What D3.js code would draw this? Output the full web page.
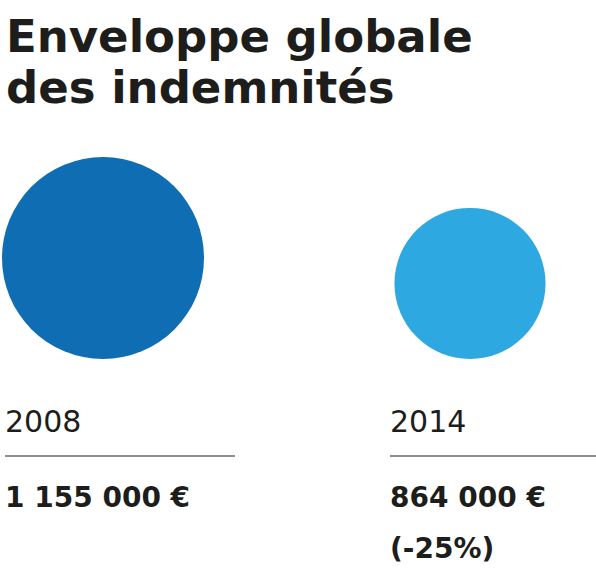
<!DOCTYPE html>
<html><head><meta charset="utf-8">
<script src="https://cdn.jsdelivr.net/npm/d3@7"></script>
<style>body{margin:0;background:#fff}</style>
</head><body>
<div id="chart"></div>
<script>
// data
var years = ["2008", "2014"];
var amounts = [1155000, 864000];
var amountLabels = ["1 155 000 €", "864 000 €"];
var notes = ["", "(-25%)"];
var colors = ["#0f6db3", "#2ea8e0"];

var svgWidth = 596, svgHeight = 569;
var svg = d3.select("#chart").append("svg")
  .attr("width", svgWidth).attr("height", svgHeight);

var font = "'DejaVu Sans', sans-serif";
var ink = "#1d1d1b";

// title
svg.append("text").attr("x", 6).attr("y", 52)
  .attr("font-family", font).attr("font-weight", "bold").attr("font-size", 45)
  .attr("fill", ink).text("Enveloppe globale");
svg.append("text").attr("x", 6).attr("y", 103)
  .attr("font-family", font).attr("font-weight", "bold").attr("font-size", 45)
  .attr("fill", ink).text("des indemnités");

// scales
var x = d3.scaleOrdinal().domain(years).range([103, 470]);
var colLeft = d3.scaleOrdinal().domain(years).range([5, 390]);
var colRight = d3.scaleOrdinal().domain(years).range([235, 596]);
var r = d3.scaleLinear().domain([0, d3.max(amounts)]).range([0, 101]);
var baseY = 359;

var data = years.map((y, i) => ({year: y, amount: amounts[i], label: amountLabels[i], note: notes[i], color: colors[i]}));

var g = svg.selectAll("g.col").data(data).enter().append("g").attr("class", "col");

g.append("circle")
  .attr("cx", d => x(d.year))
  .attr("cy", d => baseY - r(d.amount))
  .attr("r", d => r(d.amount))
  .attr("fill", d => d.color);

g.append("text")
  .attr("x", d => colLeft(d.year)).attr("y", 432)
  .attr("font-family", font).attr("font-size", 30).attr("fill", ink)
  .text(d => d.year);

g.append("line")
  .attr("x1", d => colLeft(d.year)).attr("x2", d => colRight(d.year))
  .attr("y1", 456).attr("y2", 456)
  .attr("stroke", ink).attr("stroke-width", 1.2);

g.append("text")
  .attr("x", d => colLeft(d.year)).attr("y", 507)
  .attr("font-family", font).attr("font-weight", "bold").attr("font-size", 28).attr("fill", ink)
  .text(d => d.label);

g.append("text")
  .attr("x", d => colLeft(d.year)).attr("y", 558)
  .attr("font-family", font).attr("font-weight", "bold").attr("font-size", 28).attr("fill", ink)
  .text(d => d.note);
</script>
</body></html>
